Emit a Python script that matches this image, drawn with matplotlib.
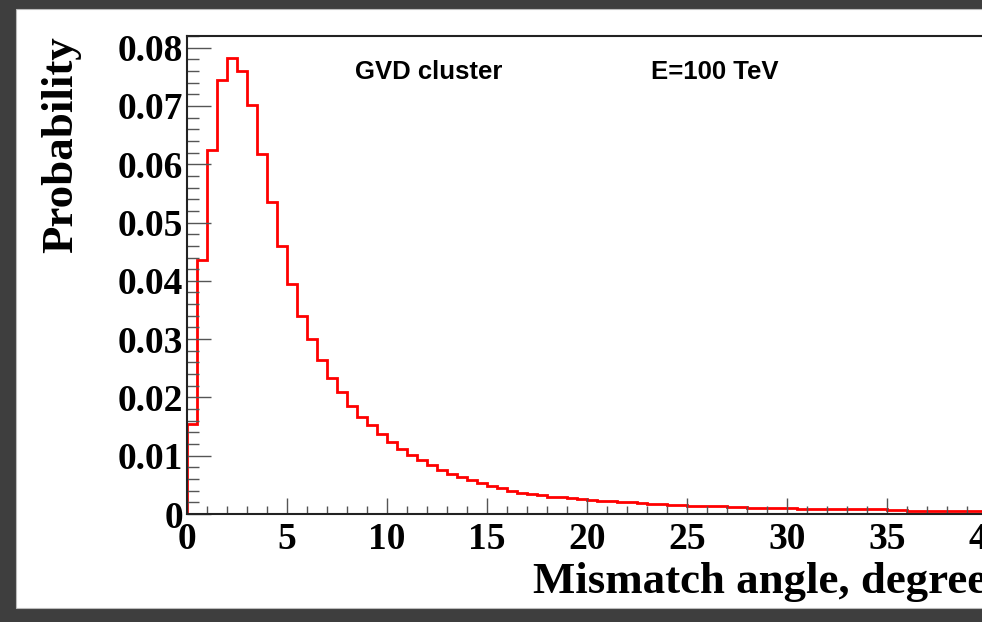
import numpy as np
import matplotlib
matplotlib.use("Agg")
import matplotlib.pyplot as plt
from matplotlib.patches import Rectangle
from matplotlib.ticker import MultipleLocator, FixedLocator

# ---- data ----
bin_width = 0.5
x_min, x_max = 0.0, 40.0
probability = [
    0.0155, 0.0435, 0.0625, 0.0745, 0.0783, 0.0760, 0.0701, 0.0617, 0.0535, 0.0460,
    0.0394, 0.0340, 0.0300, 0.0264, 0.0233, 0.0209, 0.0186, 0.0167, 0.0152, 0.0138,
    0.0124, 0.0112, 0.0102, 0.0093, 0.0084, 0.0076, 0.0069, 0.0064, 0.0058, 0.0053,
    0.0048, 0.0044, 0.0040, 0.0036, 0.0034, 0.0032, 0.0030, 0.0029, 0.0027, 0.0026,
    0.0024, 0.0023, 0.0022, 0.0021, 0.0020, 0.0019, 0.0018, 0.0017, 0.0016, 0.0015,
    0.0014, 0.0014, 0.0013, 0.0013, 0.0012, 0.0012, 0.0011, 0.0011, 0.0010, 0.0010,
    0.0010, 0.0009, 0.0009, 0.0009, 0.0009, 0.0008, 0.0008, 0.0008, 0.0008, 0.0008,
    0.0007, 0.0007, 0.0006, 0.0006, 0.0006, 0.0006, 0.0005, 0.0005, 0.0005, 0.0005,
]
x_ticks = [0, 5, 10, 15, 20, 25, 30, 35, 40]
x_tick_labels = ["0", "5", "10", "15", "20", "25", "30", "35", "40"]
y_ticks = [0, 0.01, 0.02, 0.03, 0.04, 0.05, 0.06, 0.07, 0.08]
y_tick_labels = ["0", "0.01", "0.02", "0.03", "0.04", "0.05", "0.06", "0.07", "0.08"]
x_title = "Mismatch angle, degree"
y_title = "Probability"
label_left = "GVD cluster"
label_right = "E=100 TeV"

edges = np.linspace(x_min, x_max, len(probability) + 1)

W, H = 982, 622
fig = plt.figure(figsize=(W / 100, H / 100), dpi=100)
fig.patch.set_facecolor("#3e3e3e")
fig.patches.append(Rectangle((16 / W, (H - 608) / H), 1.0, (608 - 9) / H,
                             transform=fig.transFigure, facecolor="white",
                             edgecolor="#bbbbbb", linewidth=0.8, zorder=-10))

ax = fig.add_axes([187 / W, (H - 514) / H, (987 - 187) / W, (514 - 36) / H])
ax.set_zorder(5)
ax.set_facecolor("white")
ax.stairs(probability, edges, baseline=0, color="#ff0000", linewidth=2.0)

ax.set_xlim(x_min, x_max)
ax.set_ylim(0, 0.0820)

serif = ["Liberation Serif", "DejaVu Serif"]
sans = ["Liberation Sans", "DejaVu Sans"]

ax.xaxis.set_major_locator(FixedLocator(x_ticks))
ax.xaxis.set_minor_locator(MultipleLocator(1))
ax.yaxis.set_major_locator(FixedLocator(y_ticks))
ax.yaxis.set_minor_locator(MultipleLocator(0.002))
ax.set_xticklabels(x_tick_labels, family=serif, fontweight="bold", fontsize=27)
ax.set_yticklabels(y_tick_labels, family=serif, fontweight="bold", fontsize=27)

ax.tick_params(axis="x", which="major", direction="in", length=11.5, width=1.0,
               color="#555555", pad=6)
ax.tick_params(axis="x", which="minor", direction="in", length=5.8, width=1.0,
               color="#555555")
ax.tick_params(axis="y", which="major", direction="in", length=17, width=1.0,
               color="#555555", pad=3)
ax.tick_params(axis="y", which="minor", direction="in", length=8.6, width=1.0,
               color="#555555")

for s in ax.spines.values():
    s.set_color("#222222")
    s.set_linewidth(1.5)

ax.set_xlabel(x_title, family=serif, fontweight="bold", fontsize=32.3, loc="right",
              labelpad=3)
ax.set_ylabel(y_title, family=serif, fontweight="bold", fontsize=32.3, loc="top",
              labelpad=26)

ax.text(0.210, 0.925, label_left, transform=ax.transAxes, family=sans,
        fontweight="bold", fontsize=18.5, ha="left", va="center")
ax.text(0.580, 0.925, label_right, transform=ax.transAxes, family=sans,
        fontweight="bold", fontsize=18.5, ha="left", va="center")

fig.savefig("out.png", dpi=100, facecolor=fig.get_facecolor())
